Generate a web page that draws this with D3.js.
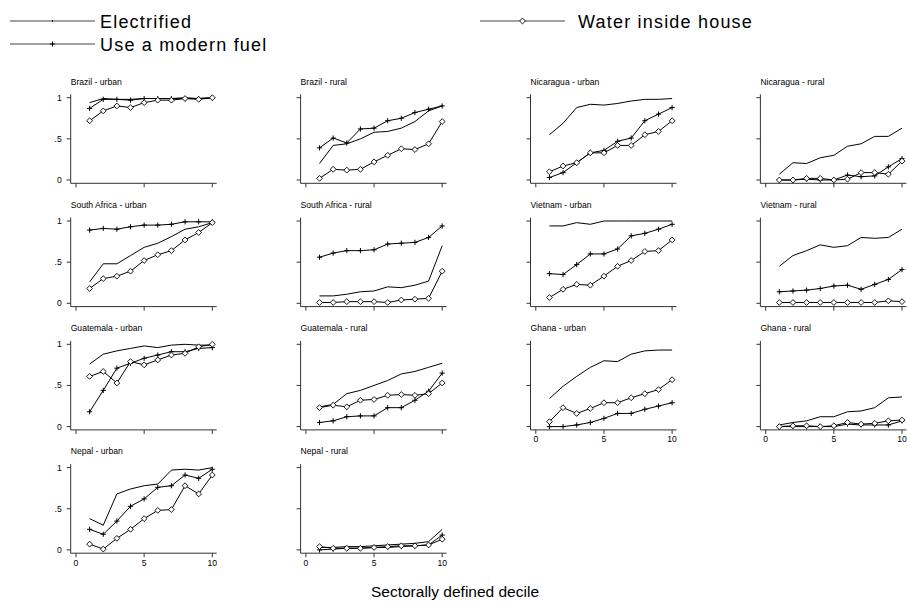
<!DOCTYPE html>
<html>
<head>
<meta charset="utf-8">
<script src="https://cdn.jsdelivr.net/npm/d3@7"></script>
<style>
  html, body { margin: 0; padding: 0; background: #fff; }
  svg { display: block; font-family: "Liberation Sans", Arial, sans-serif; }
</style>
</head>
<body>
<svg id="chart" width="907" height="607"></svg>
<script>
// Decile index (x axis) and tick labels
const deciles = [1, 2, 3, 4, 5, 6, 7, 8, 9, 10];
const xTicks = [0, 5, 10];
const yTicks = [0, 0.5, 1];
const yTickLabels = ["0", ".5", "1"];

// Panel order, laid out row by row on a 4-column grid
const panels = [
  "Brazil - urban", "Brazil - rural", "Nicaragua - urban", "Nicaragua - rural",
  "South Africa - urban", "South Africa - rural", "Vietnam - urban", "Vietnam - rural",
  "Guatemala - urban", "Guatemala - rural", "Ghana - urban", "Ghana - rural",
  "Nepal - urban", "Nepal - rural"
];

// Share of households electrified, by decile
const electrified = [
  [0.94, 0.99, 0.98, 0.98, 0.99, 0.99, 0.99, 1.00, 0.99, 1.00],
  [0.20, 0.42, 0.44, 0.50, 0.58, 0.59, 0.63, 0.71, 0.84, 0.90],
  [0.55, 0.69, 0.88, 0.92, 0.91, 0.93, 0.96, 0.98, 0.98, 0.99],
  [0.07, 0.21, 0.20, 0.27, 0.30, 0.41, 0.44, 0.53, 0.53, 0.63],
  [0.26, 0.48, 0.48, 0.58, 0.68, 0.73, 0.81, 0.90, 0.93, 0.98],
  [0.09, 0.09, 0.11, 0.14, 0.15, 0.20, 0.19, 0.22, 0.27, 0.70],
  [0.94, 0.94, 0.98, 0.96, 1.00, 1.00, 1.00, 1.00, 1.00, 1.00],
  [0.45, 0.58, 0.64, 0.71, 0.68, 0.70, 0.80, 0.79, 0.80, 0.90],
  [0.76, 0.88, 0.92, 0.95, 0.98, 0.96, 0.99, 1.00, 0.99, 0.99],
  [0.24, 0.27, 0.40, 0.44, 0.50, 0.56, 0.64, 0.67, 0.72, 0.77],
  [0.34, 0.49, 0.61, 0.72, 0.80, 0.79, 0.88, 0.92, 0.93, 0.93],
  [0.02, 0.05, 0.07, 0.12, 0.12, 0.18, 0.19, 0.23, 0.35, 0.36],
  [0.38, 0.30, 0.68, 0.74, 0.78, 0.80, 0.97, 0.98, 0.97, 1.00],
  [0.03, 0.03, 0.04, 0.04, 0.05, 0.06, 0.07, 0.08, 0.10, 0.25]
];

// Share using a modern cooking fuel, by decile
const modernFuel = [
  [0.87, 0.98, 0.98, 0.97, 0.99, 0.99, 0.99, 0.99, 0.99, 1.00],
  [0.39, 0.51, 0.45, 0.62, 0.63, 0.72, 0.75, 0.82, 0.86, 0.90],
  [0.03, 0.09, 0.21, 0.33, 0.36, 0.47, 0.51, 0.72, 0.80, 0.88],
  [0.00, 0.00, 0.01, 0.00, 0.00, 0.06, 0.04, 0.05, 0.16, 0.26],
  [0.89, 0.91, 0.90, 0.93, 0.95, 0.95, 0.96, 0.99, 0.99, 0.99],
  [0.56, 0.61, 0.64, 0.64, 0.65, 0.72, 0.73, 0.74, 0.80, 0.94],
  [0.36, 0.35, 0.47, 0.60, 0.60, 0.66, 0.82, 0.85, 0.90, 0.96],
  [0.14, 0.15, 0.16, 0.18, 0.21, 0.22, 0.17, 0.23, 0.29, 0.41],
  [0.18, 0.44, 0.71, 0.77, 0.83, 0.87, 0.91, 0.91, 0.95, 0.96],
  [0.05, 0.07, 0.12, 0.13, 0.13, 0.23, 0.23, 0.32, 0.43, 0.65],
  [0.00, 0.00, 0.02, 0.05, 0.10, 0.16, 0.16, 0.21, 0.25, 0.29],
  [0.00, 0.00, 0.00, 0.00, 0.00, 0.03, 0.02, 0.02, 0.02, 0.07],
  [0.25, 0.19, 0.35, 0.53, 0.62, 0.76, 0.78, 0.91, 0.87, 0.98],
  [0.00, 0.01, 0.02, 0.02, 0.03, 0.03, 0.04, 0.05, 0.06, 0.18]
];

// Share with water piped inside the house, by decile
const waterInside = [
  [0.72, 0.84, 0.90, 0.88, 0.94, 0.97, 0.97, 0.99, 0.98, 1.00],
  [0.02, 0.13, 0.12, 0.13, 0.22, 0.30, 0.38, 0.37, 0.44, 0.71],
  [0.10, 0.17, 0.21, 0.33, 0.33, 0.42, 0.42, 0.55, 0.59, 0.72],
  [0.00, 0.00, 0.02, 0.02, 0.00, 0.01, 0.09, 0.09, 0.07, 0.23],
  [0.18, 0.30, 0.33, 0.39, 0.52, 0.59, 0.64, 0.77, 0.86, 0.98],
  [0.01, 0.01, 0.02, 0.02, 0.02, 0.01, 0.04, 0.05, 0.06, 0.39],
  [0.07, 0.17, 0.23, 0.22, 0.33, 0.45, 0.52, 0.63, 0.64, 0.77],
  [0.01, 0.01, 0.01, 0.01, 0.01, 0.01, 0.01, 0.01, 0.03, 0.02],
  [0.61, 0.67, 0.53, 0.79, 0.75, 0.81, 0.87, 0.89, 0.97, 1.00],
  [0.23, 0.26, 0.24, 0.32, 0.33, 0.38, 0.39, 0.38, 0.40, 0.53],
  [0.06, 0.23, 0.16, 0.22, 0.29, 0.29, 0.35, 0.40, 0.45, 0.57],
  [0.00, 0.01, 0.01, 0.00, 0.01, 0.05, 0.03, 0.04, 0.07, 0.08],
  [0.07, 0.01, 0.14, 0.25, 0.38, 0.48, 0.49, 0.78, 0.68, 0.91],
  [0.04, 0.02, 0.02, 0.02, 0.03, 0.04, 0.05, 0.05, 0.06, 0.13]
];

const seriesNames = ["Electrified", "Use a modern fuel", "Water inside house"];

const svg = d3.select("#chart");
const ink = "#000";
const axisInk = "#333";

// Grid geometry
const nCols = 4;
const colStep = 229.9;
const rowStep = 123.3;

// Marker shapes
function drawPlus(g, x, y) {
  g.append("path")
    .attr("d", `M${x - 2.6},${y}H${x + 2.6}M${x},${y - 2.6}V${y + 2.6}`)
    .attr("stroke", ink).attr("stroke-width", 1).attr("fill", "none");
}
function drawDiamond(g, x, y) {
  const r = 2.9;
  g.append("path")
    .attr("d", `M${x},${y - r}L${x + r},${y}L${x},${y + r}L${x - r},${y}Z`)
    .attr("stroke", ink).attr("stroke-width", 0.9).attr("fill", "#fff");
}

// Which panels carry x tick labels (last panel in each column)
function isBottom(i) {
  return i + nCols >= panels.length;
}

panels.forEach((name, i) => {
  const c = i % nCols, r = Math.floor(i / nCols);
  const dx = c * colStep, dy = r * rowStep;
  const x = d3.scaleLinear().domain([0, 10]).range([76 + dx, 212.3 + dx]);
  const y = d3.scaleLinear().domain([0, 1]).range([180 + dy, 97.7 + dy]);
  const g = svg.append("g");

  const axisLeft = 70.7 + dx, axisBottom = 183.3 + dy;
  const axisTop = 94.3 + dy, axisRight = 216.7 + dx;

  // Panel title
  g.append("text")
    .attr("x", axisLeft).attr("y", 84.5 + dy)
    .attr("font-size", 8.6).attr("fill", ink)
    .text(name);

  // y axis
  g.append("line").attr("x1", axisLeft).attr("x2", axisLeft)
    .attr("y1", axisTop).attr("y2", axisBottom)
    .attr("stroke", axisInk).attr("stroke-width", 1);
  yTicks.forEach((t, k) => {
    g.append("line").attr("x1", axisLeft - 4).attr("x2", axisLeft)
      .attr("y1", y(t)).attr("y2", y(t))
      .attr("stroke", axisInk).attr("stroke-width", 1);
    if (c === 0) {
      g.append("text").attr("x", axisLeft - 9).attr("y", y(t) + 3)
        .attr("text-anchor", "end").attr("font-size", 8.6).attr("fill", ink)
        .text(yTickLabels[k]);
    }
  });

  // x axis
  g.append("line").attr("x1", axisLeft).attr("x2", axisRight)
    .attr("y1", axisBottom).attr("y2", axisBottom)
    .attr("stroke", axisInk).attr("stroke-width", 1);
  xTicks.forEach(t => {
    g.append("line").attr("x1", x(t)).attr("x2", x(t))
      .attr("y1", axisBottom).attr("y2", axisBottom + 4)
      .attr("stroke", axisInk).attr("stroke-width", 1);
    if (isBottom(i)) {
      g.append("text").attr("x", x(t)).attr("y", axisBottom + 12.5)
        .attr("text-anchor", "middle").attr("font-size", 8.6).attr("fill", ink)
        .text(t);
    }
  });

  const line = d3.line().x((d, k) => x(deciles[k])).y(d => y(d));

  // Electrified: plain line
  g.append("path").attr("d", line(electrified[i]))
    .attr("fill", "none").attr("stroke", ink).attr("stroke-width", 1);

  // Modern fuel: line with plus markers
  g.append("path").attr("d", line(modernFuel[i]))
    .attr("fill", "none").attr("stroke", ink).attr("stroke-width", 1);
  modernFuel[i].forEach((v, k) => drawPlus(g, x(deciles[k]), y(v)));

  // Water inside house: line with hollow diamonds
  g.append("path").attr("d", line(waterInside[i]))
    .attr("fill", "none").attr("stroke", ink).attr("stroke-width", 1);
  waterInside[i].forEach((v, k) => drawDiamond(g, x(deciles[k]), y(v)));
});

// Legend
const legend = svg.append("g");
const legendItems = [
  { name: seriesNames[0], x0: 10, x1: 95, y: 21, tx: 100, marker: "dot" },
  { name: seriesNames[1], x0: 10, x1: 95, y: 44, tx: 100, marker: "plus" },
  { name: seriesNames[2], x0: 480, x1: 565, y: 21, tx: 578, marker: "diamond" }
];
legendItems.forEach(it => {
  legend.append("line").attr("x1", it.x0).attr("x2", it.x1)
    .attr("y1", it.y).attr("y2", it.y)
    .attr("stroke", "#444").attr("stroke-width", 1);
  const mx = (it.x0 + it.x1) / 2;
  if (it.marker === "plus") drawPlus(legend, mx, it.y);
  else if (it.marker === "diamond") drawDiamond(legend, mx, it.y);
  else legend.append("line").attr("x1", mx).attr("x2", mx)
    .attr("y1", it.y - 1).attr("y2", it.y + 1).attr("stroke", ink);
  legend.append("text").attr("x", it.tx).attr("y", it.y + 6.5)
    .attr("font-size", 18).attr("letter-spacing", 1.2).attr("fill", ink)
    .text(it.name);
});

// Shared x axis title
svg.append("text")
  .attr("x", 455).attr("y", 597)
  .attr("text-anchor", "middle").attr("font-size", 15.5).attr("fill", ink)
  .text("Sectorally defined decile");
</script>
</body>
</html>
